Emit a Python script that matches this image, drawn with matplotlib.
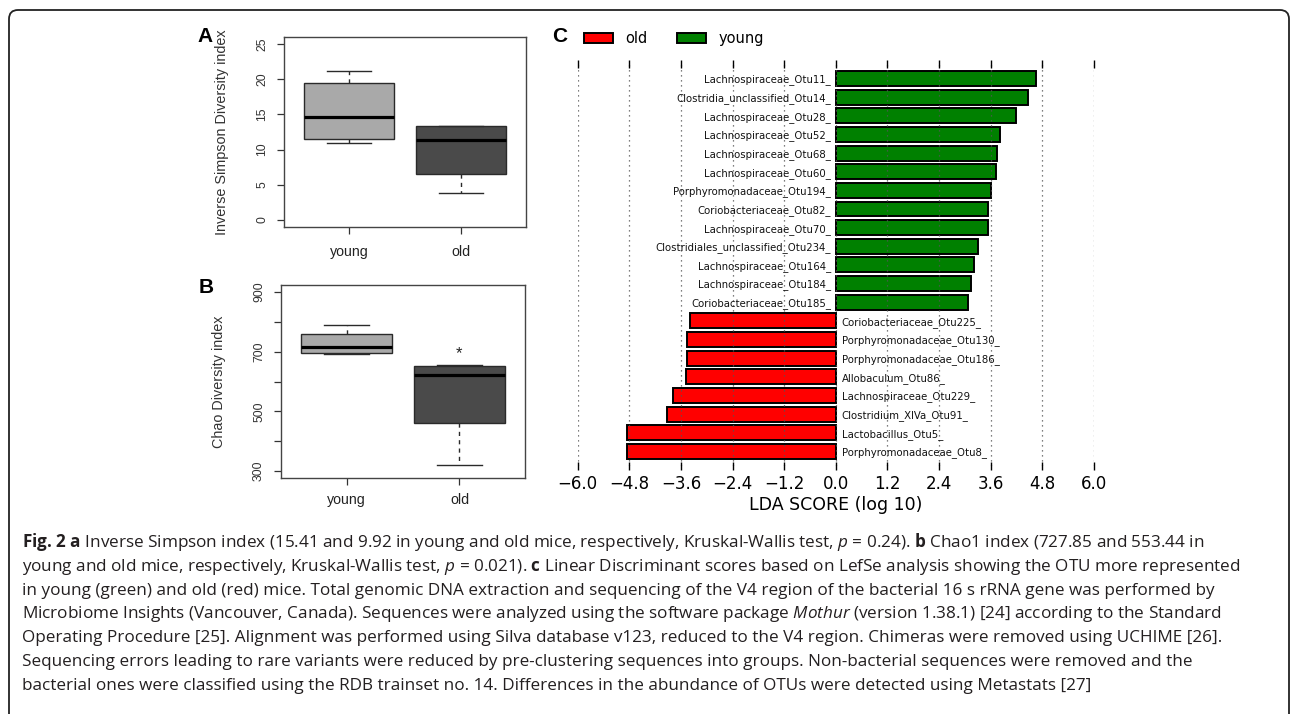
import numpy as np
import matplotlib
matplotlib.use("Agg")
import matplotlib.pyplot as plt
from matplotlib.patches import FancyBboxPatch
from matplotlib.transforms import IdentityTransform

W, H = 1290, 714

# panels A and B: box statistics
groups = ["young", "old"]
box_colors = ["#a9a9a9", "#4a4a4a"]

simpson_low = [11.0, 3.8]
simpson_q1 = [11.5, 6.5]
simpson_med = [14.7, 11.3]
simpson_q3 = [19.4, 13.3]
simpson_high = [21.2, 13.35]

chao_low = [693, 320]
chao_q1 = [696, 459]
chao_med = [715, 621]
chao_q3 = [760, 651]
chao_high = [791, 656]

# panel C: LEfSe LDA scores, top to bottom
otu_labels = [
    "Lachnospiraceae_Otu11_", "Clostridia_unclassified_Otu14_",
    "Lachnospiraceae_Otu28_", "Lachnospiraceae_Otu52_",
    "Lachnospiraceae_Otu68_", "Lachnospiraceae_Otu60_",
    "Porphyromonadaceae_Otu194_", "Coriobacteriaceae_Otu82_",
    "Lachnospiraceae_Otu70_", "Clostridiales_unclassified_Otu234_",
    "Lachnospiraceae_Otu164_", "Lachnospiraceae_Otu184_",
    "Coriobacteriaceae_Otu185_", "Coriobacteriaceae_Otu225_",
    "Porphyromonadaceae_Otu130_", "Porphyromonadaceae_Otu186_",
    "Allobaculum_Otu86_", "Lachnospiraceae_Otu229_",
    "Clostridium_XlVa_Otu91_", "Lactobacillus_Otu5_",
    "Porphyromonadaceae_Otu8_",
]
lda_scores = [4.65, 4.47, 4.20, 3.83, 3.76, 3.72, 3.60, 3.54, 3.54, 3.31,
              3.22, 3.14, 3.07, -3.40, -3.45, -3.46, -3.49, -3.78, -3.93,
              -4.86, -4.86]
lda_ticks = [-6.0, -4.8, -3.6, -2.4, -1.2, 0.0, 1.2, 2.4, 3.6, 4.8, 6.0]

caption_lines = [
    r"$\mathbf{Fig.\hspace{0.07}2\ a}$ Inverse Simpson index (15.41 and 9.92 in young and old mice, respectively, Kruskal-Wallis test, $\mathit{p}$ = 0.24). $\mathbf{b}$ Chao1 index (727.85 and 553.44 in",
    r"young and old mice, respectively, Kruskal-Wallis test, $\mathit{p}$ = 0.021). $\mathbf{c}$ Linear Discriminant scores based on LefSe analysis showing the OTU more represented",
    "in young (green) and old (red) mice. Total genomic DNA extraction and sequencing of the V4 region of the bacterial 16 s rRNA gene was performed by",
    r"Microbiome Insights (Vancouver, Canada). Sequences were analyzed using the software package $\mathit{Mothur}$ (version 1.38.1) [24] according to the Standard",
    "Operating Procedure [25]. Alignment was performed using Silva database v123, reduced to the V4 region. Chimeras were removed using UCHIME [26].",
    "Sequencing errors leading to rare variants were reduced by pre-clustering sequences into groups. Non-bacterial sequences were removed and the",
    "bacterial ones were classified using the RDB trainset no. 14. Differences in the abundance of OTUs were detected using Metastats [27]",
]

plt.rcParams["mathtext.fontset"] = "custom"
plt.rcParams["mathtext.rm"] = "Open Sans"
plt.rcParams["mathtext.bf"] = "Open Sans:bold"
plt.rcParams["mathtext.it"] = "Open Sans:italic"

fig = plt.figure(figsize=(W / 100, H / 100), dpi=100)


def px_axes(x0, y0, x1, y1):
    return fig.add_axes([x0 / W, 1 - y1 / H, (x1 - x0) / W, (y1 - y0) / H])


def box_stats(low, q1, med, q3, high):
    return [dict(whislo=a, q1=b, med=c, q3=d, whishi=e, fliers=[])
            for a, b, c, d, e in zip(low, q1, med, q3, high)]


def r_boxplot(ax, stats, ylim, yticks, ylabels, ylabel, label_x, xpad):
    bp = ax.bxp(stats, positions=[1, 2], widths=0.8, patch_artist=True,
                showfliers=False, capwidths=0.4,
                boxprops=dict(edgecolor="#2a2a2a", linewidth=1.0),
                medianprops=dict(color="black", linewidth=2.3,
                                 solid_capstyle="butt"),
                whiskerprops=dict(color="#2a2a2a", linewidth=1.0,
                                  linestyle=(0, (3, 3))),
                capprops=dict(color="#2a2a2a", linewidth=1.0))
    for patch, c in zip(bp["boxes"], box_colors):
        patch.set_facecolor(c)
    ax.set_xlim(0.42, 2.58)
    ax.set_ylim(*ylim)
    ax.set_xticks([1, 2])
    ax.set_xticklabels(groups, family="Liberation Sans", fontsize=10.2)
    ax.set_yticks(yticks)
    ax.set_yticklabels(ylabels, family="Liberation Sans", fontsize=8.8,
                       rotation=90, va="center")
    ax.tick_params(axis="y", length=5, width=0.9, color="#333333", pad=6.5,
                   labelcolor="#333333")
    ax.tick_params(axis="x", length=5, width=0.9, color="#333333", pad=xpad,
                   labelcolor="#222222")
    for s in ax.spines.values():
        s.set_color("#444444")
        s.set_linewidth(1.0)
    ax.set_ylabel(ylabel, family="Liberation Sans", fontsize=10.4,
                  color="#333333")
    ax.yaxis.set_label_coords(label_x, 0.5)


# panel A
axa = px_axes(284, 37, 526, 227)
r_boxplot(axa, box_stats(simpson_low, simpson_q1, simpson_med, simpson_q3,
                         simpson_high),
          (-1, 26), [0, 5, 10, 15, 20, 25],
          ["0", "5", "10", "15", "20", "25"],
          "Inverse Simpson Diversity index", -0.227, 8.0)

# panel B
axb = px_axes(281, 285, 525, 478)
r_boxplot(axb, box_stats(chao_low, chao_q1, chao_med, chao_q3, chao_high),
          (276, 924), [300, 400, 500, 600, 700, 800, 900],
          ["300", "", "500", "", "700", "", "900"],
          "Chao Diversity index", -0.225, 5.5)
axb.text(2, 678, "*", ha="center", va="baseline", fontsize=12,
         family="Liberation Sans", color="#222222")

# panel C
axc = px_axes(577.7, 63.7, 1093.7, 465.5)
scores = np.array(lda_scores)
ypos = np.arange(len(otu_labels))[::-1]
is_young = scores > 0
young_bars = axc.barh(ypos[is_young], scores[is_young], height=0.8,
                      color="#008000", edgecolor="black", linewidth=1.4,
                      zorder=1)
old_bars = axc.barh(ypos[~is_young], scores[~is_young], height=0.8,
                    color="#ff0000", edgecolor="black", linewidth=1.4,
                    zorder=1)
for y, v, name in zip(ypos, scores, otu_labels):
    if v > 0:
        axc.annotate(name, (0, y), xytext=(-4.5, 0), textcoords="offset pixels",
                     ha="right", va="center_baseline", fontsize=7.3,
                     color="#111111")
    else:
        axc.annotate(name, (0, y), xytext=(6, 0), textcoords="offset pixels",
                     ha="left", va="center_baseline", fontsize=7.3,
                     color="#111111")

axc.set_xlim(-6, 6)
axc.set_ylim(-0.757, len(otu_labels) - 1 + 0.793)
axc.set_xticks(lda_ticks)
axc.set_xticklabels([f"{t:.1f}".replace("-", "\u2212") for t in lda_ticks],
                    fontsize=12)
axc.tick_params(axis="x", top=True, bottom=True, direction="inout",
                length=5.5, width=1.0, pad=4.0)
axc.tick_params(axis="y", left=False, labelleft=False)
for s in axc.spines.values():
    s.set_visible(False)
axc.grid(axis="x", linestyle=(0, (1, 3)), color="#555555", linewidth=0.9)
axc.set_axisbelow(False)
axc.set_xlabel("LDA SCORE (log 10)", fontsize=12.5, labelpad=2.5)

fig.legend(handles=[old_bars, young_bars], labels=["old", "young"],
           loc="center left", bbox_to_anchor=(583.6 / W, 1 - 38.7 / H),
           ncol=2, frameon=False, fontsize=10.5, handlelength=2.05,
           handleheight=0.73, handletextpad=0.8, columnspacing=2.0,
           borderpad=0, borderaxespad=0)

# panel letters
for letter, (x, y) in zip("ABC", [(205.5, 36.7), (206, 287.5), (559.3, 36.8)]):
    fig.text(x / W, 1 - y / H, letter, ha="center", va="center",
             family="Liberation Sans", fontweight="bold", fontsize=15)

# caption
for i, line in enumerate(caption_lines):
    fig.text(22 / W, 1 - (547 + 23.8 * i) / H, line, ha="left",
             va="baseline", family="Open Sans", fontsize=12.3,
             color="#231f20")

# rounded frame, open at the bottom
fig.patches.append(FancyBboxPatch((9, -60), 1280, H - 10 + 60,
                                  boxstyle="round,pad=0,rounding_size=9",
                                  transform=IdentityTransform(), fill=False,
                                  linewidth=1.3, edgecolor="#222222"))

fig.savefig("out.png", dpi=100)
